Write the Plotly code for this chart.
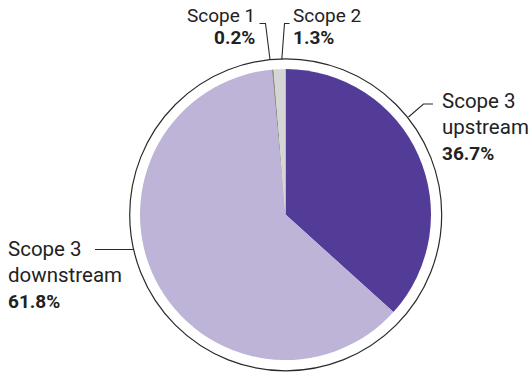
import plotly.graph_objects as go

# Emissions share by scope (percent), clockwise from 12 o'clock
slices = ["Scope 3 upstream", "Scope 3 downstream", "Scope 1", "Scope 2"]
shares = [36.7, 61.8, 0.2, 1.3]
slice_colors = ["#533b98", "#bdb4d7", "#8f8f8f", "#d5d5d5"]

W, H = 529, 374
FONT = "Roboto"
TEXT = "#222222"


def px(x):
    return x / W


def py(y):
    return 1 - y / H


share = dict(zip(slices, shares))

fig = go.Figure(
    go.Pie(
        labels=slices,
        values=shares,
        sort=False,
        direction="clockwise",
        rotation=0,
        marker=dict(colors=slice_colors, line=dict(width=0)),
        textinfo="none",
        hoverinfo="label+percent",
        showlegend=False,
        domain=dict(x=[px(140), px(431)], y=[py(360), py(69)]),
    )
)

# thin outer ring around the pie
cx, cy, r = 285.7, 214.8, 156
shapes = [
    dict(type="circle", xref="paper", yref="paper",
         x0=px(cx - r), x1=px(cx + r), y0=py(cy + r), y1=py(cy - r),
         line=dict(color="#2a2a2a", width=1.2))
]


def leader(points):
    path = "M " + " L ".join(f"{px(x)},{py(y)}" for x, y in points)
    return dict(type="path", xref="paper", yref="paper", path=path,
                line=dict(color="#2a2a2a", width=1.1))


shapes += [
    leader([(259.5, 23.5), (265.5, 23.5), (270, 59.5)]),
    leader([(289.5, 23.5), (284.5, 23.5), (281.8, 59.5)]),
    leader([(433, 104), (423.5, 104), (408.5, 117)]),
    leader([(95, 249.5), (133.5, 249.5)]),
]


def pct(name):
    return f"<b>{share[name]:.1f}%</b>"


annotations = []


def text(s, x, y, anchor, size=19):
    annotations.append(dict(text=s, x=px(x), y=py(y), xref="paper", yref="paper",
                            xanchor=anchor, yanchor="middle", showarrow=False,
                            font=dict(family=FONT, size=size, color=TEXT)))


text("Scope 1", 257, 16, "right")
text(pct("Scope 1"), 257, 38, "right")
text("Scope 2", 291, 16, "left")
text(pct("Scope 2"), 291, 38, "left")
text("Scope 3", 440, 101, "left", 20.5)
text("upstream", 440, 127, "left", 20.5)
text(pct("Scope 3 upstream"), 440, 153, "left")
text("Scope 3", 6, 249, "left", 20.5)
text("downstream", 6, 275, "left", 20.5)
text(pct("Scope 3 downstream"), 6, 301, "left")

fig.update_layout(
    width=W, height=H,
    margin=dict(l=0, r=0, t=0, b=0),
    paper_bgcolor="white", plot_bgcolor="white",
    shapes=shapes, annotations=annotations,
)

fig.write_html("out.html")
